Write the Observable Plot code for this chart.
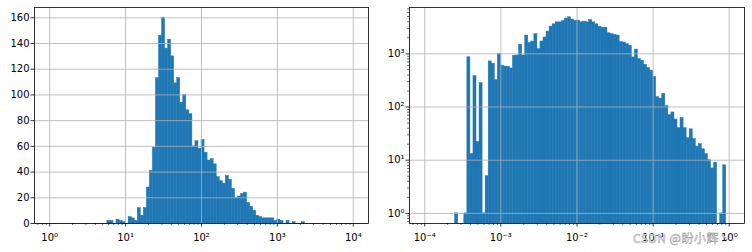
<!DOCTYPE html>
<html><head><meta charset="utf-8">
<script src="https://cdn.jsdelivr.net/npm/d3@7"></script>
<script src="https://cdn.jsdelivr.net/npm/@observablehq/plot@0.6"></script>
<style>
body{margin:0;background:#fff;}
#wrap{position:relative;width:752px;height:252px;display:flex;}
#wm{position:absolute;left:633px;top:229px;font:12px "Noto Sans CJK SC";color:#fff;-webkit-text-stroke:0.5px #9a9a9a;white-space:nowrap;letter-spacing:0.5px;}
</style></head><body>
<div id="wrap"></div>
<script>
// bin exponent ranges (100 log-spaced bins each)
const leftExpRange = [0, 4];
const rightExpRange = [-4, 0];

// left histogram counts (linear y)
const leftCounts = [
  0,0,0,0,0,0,0,0,0,0, 0,0,0,0,0,0,0,0,0,2,
  2,0,3,2,1,0,5,4,2,12, 6,12,28,41,59,113,146,160,136,143,
  130,109,113,94,100,88,85,60,64,58, 65,55,49,50,46,36,33,31,37,34,
  27,20,21,23,24,16,13,10,6,5, 4,4,4,4,2,3,2,0,2,0,
  1,0,0,1,0,0,0,0,0,0, 0,0,0,0,0,0,0,0,0,0
];

// right histogram counts (log y)
const rightCounts = [
  0,0,0,0,0,0,0,0,0,0, 1,0,0,1,860,13,380,22,280,1,
  5,720,650,320,990,600,575,570,530,920, 930,1480,930,2200,1600,1700,2330,1220,1700,2020,
  2610,3240,3580,3900,3900,4130,4600,4850,4400,4130, 4200,3900,4020,3900,4310,3900,3580,3240,3100,3100,
  2430,2330,2260,2200,1650,1630,1515,1410,855,1200, 795,740,623,540,482,370,153,144,176,104,
  70,79,58,40,62,40,26,38,25,18, 20,16,13,10,7,9,0,1,8,0
];

const leftXTicks = [1, 10, 100, 1000, 10000];
const rightXTicks = [1e-4, 1e-3, 1e-2, 1e-1, 1];
const leftYTicks = [0, 20, 40, 60, 80, 100, 120, 140, 160];
const rightYTicks = [1, 10, 100, 1000];
const watermark = "CSDN @盼小辉丶";

const SUP = {"0":"⁰","1":"¹","2":"²","3":"³","4":"⁴","5":"⁵","6":"⁶","7":"⁷","8":"⁸","9":"⁹","-":"⁻"};
const fmtExp = v => "10" + String(Math.round(Math.log10(v))).split("").map(c => SUP[c]).join("");

function makeBins(counts, [lo, hi]) {
  const step = (hi - lo) / counts.length;
  return counts.map((c, i) => ({x1: 10 ** (lo + i * step), x2: 10 ** (lo + (i + 1) * step), count: c}))
    .filter(d => d.count > 0);
}
function minorTicks(lo, hi, dom) {
  const out = [];
  for (let k = lo; k <= hi; k++) for (let m = 2; m <= 9; m++) {
    const v = m * 10 ** k;
    if (v >= dom[0] && v <= dom[1]) out.push(v);
  }
  return out;
}

const blue = "#1f77b4";
const barStyle = {fill: blue, stroke: blue, strokeWidth: 0.5, inset: 0};
const gridStyle = {stroke: "#b0b0b0", strokeOpacity: 1, strokeWidth: 0.8};
const style = {fontFamily: "DejaVu Sans", fontSize: "10px", color: "black", background: "white", overflow: "visible"};

const lxDom = [10 ** -0.2, 10 ** 4.2];
const left = Plot.plot({
  width: 376, height: 252, marginLeft: 34, marginRight: 8, marginTop: 7, marginBottom: 29,
  style,
  x: {type: "log", domain: lxDom},
  y: {domain: [0, 168]},
  marks: [
    Plot.rect(makeBins(leftCounts, leftExpRange), {x1: "x1", x2: "x2", y1: 0, y2: "count", ...barStyle}),
    Plot.gridX(leftXTicks, gridStyle),
    Plot.gridY(leftYTicks, gridStyle),
    Plot.axisX(leftXTicks, {tickSize: 3.5, tickPadding: 7, tickFormat: fmtExp, label: null, strokeWidth: 0.8}),
    Plot.axisX(minorTicks(-1, 4, lxDom), {tickSize: 2, tickFormat: () => "", label: null, strokeWidth: 0.6}),
    Plot.axisY(leftYTicks, {tickSize: 3.5, tickPadding: 1.5, label: null, strokeWidth: 0.8}),
    Plot.frame({stroke: "black", strokeWidth: 0.8})
  ]
});

const rxDom = [10 ** -4.2, 10 ** 0.2];
const ryDom = [10 ** -0.19, 10 ** 3.87];
const right = Plot.plot({
  width: 376, height: 252, marginLeft: 33, marginRight: 8, marginTop: 7, marginBottom: 29,
  style,
  x: {type: "log", domain: rxDom},
  y: {type: "log", domain: ryDom},
  marks: [
    Plot.rect(makeBins(rightCounts, rightExpRange), {x1: "x1", x2: "x2", y1: ryDom[0], y2: "count", ...barStyle}),
    Plot.gridX(rightXTicks, gridStyle),
    Plot.gridY(rightYTicks, gridStyle),
    Plot.axisX(rightXTicks, {tickSize: 3.5, tickPadding: 7, tickFormat: fmtExp, label: null, strokeWidth: 0.8}),
    Plot.axisX(minorTicks(-5, 0, rxDom), {tickSize: 2, tickFormat: () => "", label: null, strokeWidth: 0.6}),
    Plot.axisY(rightYTicks, {tickSize: 3.5, tickPadding: 1.5, tickFormat: fmtExp, label: null, strokeWidth: 0.8}),
    Plot.axisY(minorTicks(-1, 3, ryDom), {tickSize: 2, tickFormat: () => "", label: null, strokeWidth: 0.6}),
    Plot.frame({stroke: "black", strokeWidth: 0.8})
  ]
});

const wrap = document.getElementById("wrap");
wrap.append(left, right);
const wm = document.createElement("div");
wm.id = "wm";
wm.textContent = watermark;
wrap.append(wm);
</script>
</body></html>
